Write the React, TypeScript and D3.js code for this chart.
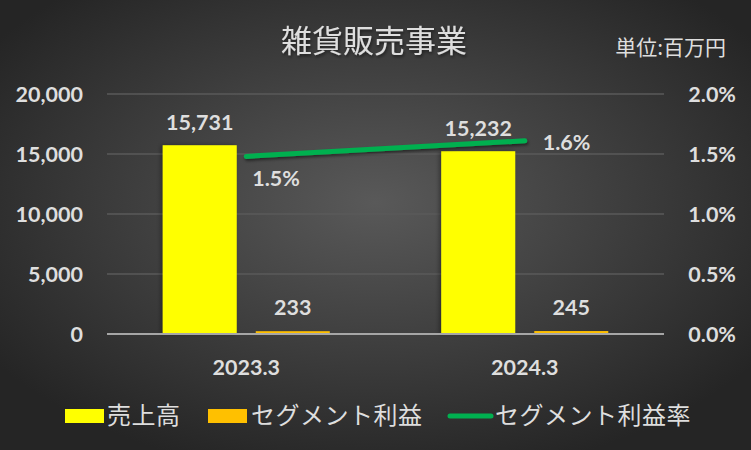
import React from 'react';
import * as d3 from 'd3';

const categories = ['2023.3', '2024.3'];
const sales = [15731, 15232];
const profit = [233, 245];
const profitRate = [1.48, 1.61];
const leftTicks = [0, 5000, 10000, 15000, 20000];
const rightTicks = [0, 0.5, 1.0, 1.5, 2.0];
const seriesNames = ['売上高', 'セグメント利益', 'セグメント利益率'];
const barSeries = ['sales', 'profit'];
const titleText = '雑貨販売事業';
const unitText = '単位:百万円';

const W = 751;
const H = 450;
const NUM_FONT = 'Lato, "Open Sans", sans-serif';
const JP_FONT = '"Noto Sans CJK JP", "Noto Sans", sans-serif';
const TXT = '#dedede';
const YELLOW = '#ffff00';
const ORANGE = '#ffc000';
const GREEN = '#00b050';
const NUM_SIZE = 21.5;

export default function App() {
  const left = 107, right = 664, top = 94, bottom = 334;
  const x = d3.scaleBand<string>().domain(categories).range([left, right]).paddingInner(0).paddingOuter(0);
  const xi = d3.scaleBand<string>().domain(barSeries).range([0, x.bandwidth()]).paddingInner(19 / 93).paddingOuter(0.599);
  const y = d3.scaleLinear().domain([0, 20000]).range([bottom, top]);
  const y2 = d3.scaleLinear().domain([0, 2.0]).range([bottom, top]);
  const fmt = d3.format(',');
  const cx = (c: string) => (x(c) as number) + x.bandwidth() / 2;

  const line = d3.line<number>()
    .x((_, i) => cx(categories[i]))
    .y((d) => y2(d));

  const lineLabelOffsets = [
    { dx: 6, dy: 22, anchor: 'start' },
    { dx: 18, dy: 1, anchor: 'start' },
  ];

  return (
    <div style={{ position: 'absolute', left: 0, top: 0 }}>
      <svg width={W} height={H} style={{ display: 'block' }}>
        <defs>
          <radialGradient id="bg" cx="50%" cy="45%" r="62%">
            <stop offset="0%" stopColor="#595959" />
            <stop offset="100%" stopColor="#252525" />
          </radialGradient>
          <filter id="shadow" x="-20%" y="-50%" width="140%" height="200%">
            <feDropShadow dx="1" dy="2" stdDeviation="1.5" floodColor="#000" floodOpacity="0.5" />
          </filter>
          <filter id="barShadow" x="-20%" y="-10%" width="140%" height="120%">
            <feDropShadow dx="-2" dy="0" stdDeviation="2" floodColor="#000" floodOpacity="0.35" />
          </filter>
        </defs>
        <rect x={0} y={0} width={W} height={H} fill="url(#bg)" />

        {/* title */}
        <text x={374} y={52} textAnchor="middle" fontFamily={JP_FONT} fontSize={31} fill={TXT} filter="url(#shadow)">{titleText}</text>
        <text x={726} y={55} textAnchor="end" fontFamily={JP_FONT} fontSize={21} fill={TXT}>{unitText}</text>

        {/* gridlines */}
        {leftTicks.filter((t) => t > 0).map((t) => (
          <line key={t} x1={left} x2={right} y1={y(t)} y2={y(t)} stroke="#5a5a5a" strokeWidth={1.5} />
        ))}

        {/* left axis labels */}
        {leftTicks.map((t) => (
          <text key={t} x={83} y={y(t)} dy="0.36em" textAnchor="end" fontFamily={NUM_FONT} fontWeight={700} fontSize={NUM_SIZE} fill={TXT}>{fmt(t)}</text>
        ))}
        {/* right axis labels */}
        {rightTicks.map((t) => (
          <text key={t} x={736} y={y2(t)} dy="0.36em" textAnchor="end" fontFamily={NUM_FONT} fontWeight={700} fontSize={NUM_SIZE} fill={TXT}>{t.toFixed(1) + '%'}</text>
        ))}

        {/* bars */}
        {categories.map((c, i) => {
          const x0 = x(c) as number;
          const xs = x0 + (xi('sales') as number);
          const xp = x0 + (xi('profit') as number);
          const bw = xi.bandwidth();
          return (
            <g key={c}>
              <rect x={xs} y={y(sales[i])} width={bw} height={y(0) - y(sales[i])} fill={YELLOW} filter="url(#barShadow)" />
              <rect x={xp} y={y(profit[i])} width={bw} height={y(0) - y(profit[i])} fill={ORANGE} />
              <text x={xs + bw / 2} y={y(sales[i]) - 15} textAnchor="middle" fontFamily={NUM_FONT} fontWeight={700} fontSize={NUM_SIZE} fill={TXT}>{fmt(sales[i])}</text>
              <text x={xp + bw / 2} y={y(profit[i]) - 16} textAnchor="middle" fontFamily={NUM_FONT} fontWeight={700} fontSize={NUM_SIZE} fill={TXT}>{fmt(profit[i])}</text>
              <text x={cx(c)} y={375} textAnchor="middle" fontFamily={NUM_FONT} fontWeight={700} fontSize={NUM_SIZE} fill={TXT}>{c}</text>
            </g>
          );
        })}

        {/* axis line */}
        <line x1={left} x2={right} y1={bottom} y2={bottom} stroke="#a6a6a6" strokeWidth={2} />

        {/* rate line */}
        <path d={line(profitRate) || ''} fill="none" stroke={GREEN} strokeWidth={5} strokeLinecap="round" filter="url(#shadow)" />
        {profitRate.map((r, i) => (
          <text key={i} x={cx(categories[i]) + lineLabelOffsets[i].dx} y={y2(r) + lineLabelOffsets[i].dy} dy="0.36em"
            textAnchor={lineLabelOffsets[i].anchor as any} fontFamily={NUM_FONT} fontWeight={700} fontSize={NUM_SIZE} fill={TXT}>
            {r.toFixed(1) + '%'}
          </text>
        ))}

        {/* legend */}
        <g>
          <rect x={65} y={409} width={39} height={14} fill={YELLOW} />
          <text x={107} y={424} fontFamily={JP_FONT} fontSize={24} letterSpacing={0.5} fill={TXT}>{seriesNames[0]}</text>
          <rect x={208} y={409} width={39} height={14} fill={ORANGE} />
          <text x={251} y={424} fontFamily={JP_FONT} fontSize={24} letterSpacing={0.5} fill={TXT}>{seriesNames[1]}</text>
          <line x1={450} x2={491} y1={416} y2={416} stroke={GREEN} strokeWidth={5} strokeLinecap="round" />
          <text x={495} y={424} fontFamily={JP_FONT} fontSize={24} letterSpacing={0.5} fill={TXT}>{seriesNames[2]}</text>
        </g>
      </svg>
    </div>
  );
}
